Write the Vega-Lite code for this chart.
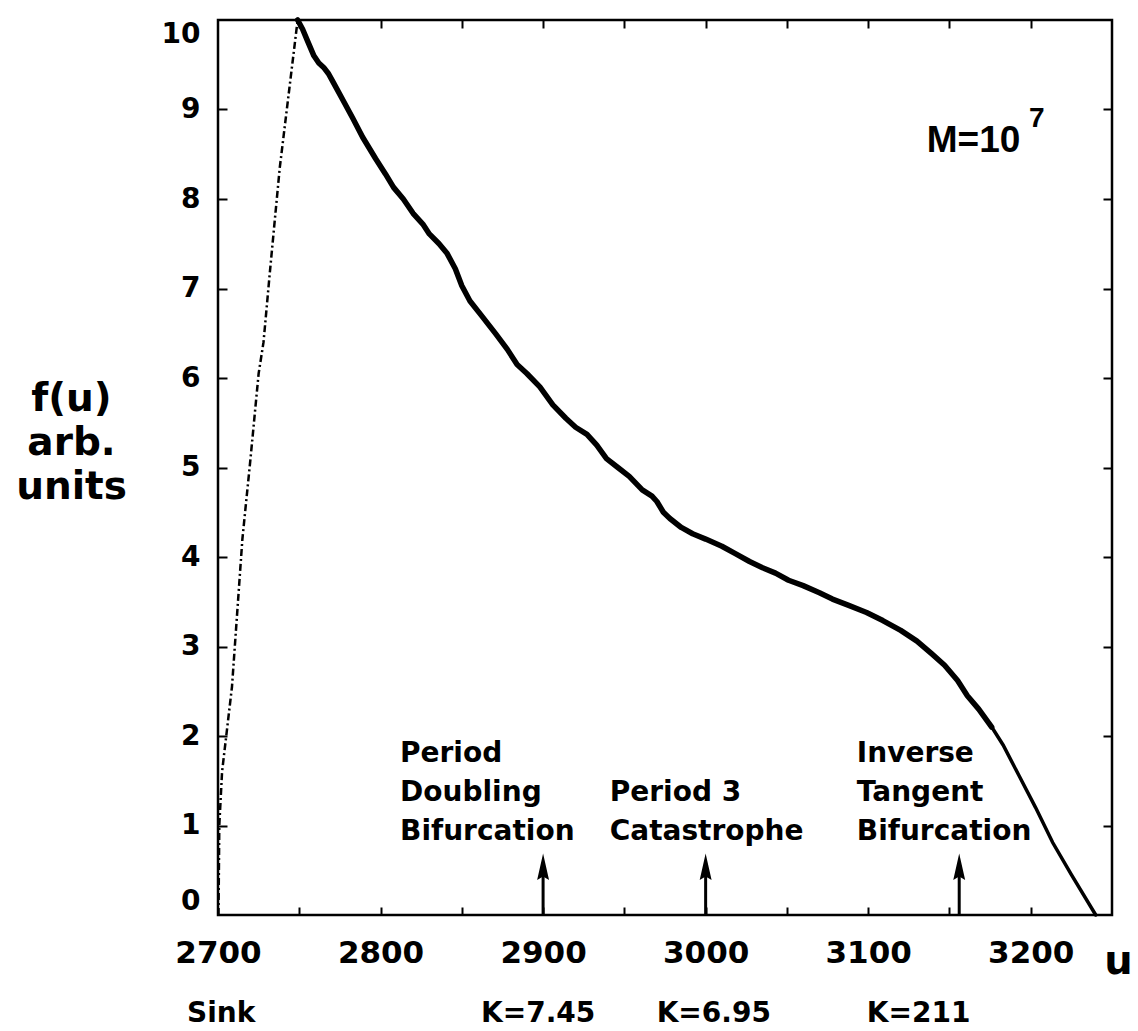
{
  "$schema": "https://vega.github.io/schema/vega-lite/v6.json",
  "width": 894,
  "height": 895,
  "autosize": "none",
  "padding": {"left": 218, "top": 20, "right": 26, "bottom": 116},
  "background": "white",
  "config": {
    "view": {"stroke": "black", "strokeWidth": 2.5},
    "axis": {
      "grid": false,
      "labelColor": "black",
      "tickColor": "black",
      "domainColor": "black",
      "titleColor": "black",
      "labelFont": "DejaVu Sans",
      "titleFont": "DejaVu Sans",
      "labelFontWeight": "bold",
      "titleFontWeight": "bold"
    },
    "text": {"font": "DejaVu Sans", "fontWeight": "bold", "color": "black"}
  },
  "datasets": {
    "sink": [
      {"u": 2700.3, "f": 0},
      {"u": 2700.8, "f": 1.0},
      {"u": 2702.5, "f": 1.6},
      {"u": 2708.6, "f": 2.55},
      {"u": 2715, "f": 4.2},
      {"u": 2720, "f": 5.1},
      {"u": 2725, "f": 6.05},
      {"u": 2728, "f": 6.4},
      {"u": 2732, "f": 7.2},
      {"u": 2738, "f": 8.35},
      {"u": 2743, "f": 9.1},
      {"u": 2749, "f": 10.0}
    ],
    "main": [
      {"u": 2749, "f": 10.0},
      {"u": 2752, "f": 9.9},
      {"u": 2755, "f": 9.77},
      {"u": 2759, "f": 9.6},
      {"u": 2762, "f": 9.52},
      {"u": 2765, "f": 9.47},
      {"u": 2768, "f": 9.4},
      {"u": 2771, "f": 9.3},
      {"u": 2777, "f": 9.1},
      {"u": 2783, "f": 8.9},
      {"u": 2789, "f": 8.69},
      {"u": 2797, "f": 8.45},
      {"u": 2803, "f": 8.28},
      {"u": 2808, "f": 8.13},
      {"u": 2814, "f": 8.0},
      {"u": 2820, "f": 7.84},
      {"u": 2826, "f": 7.72},
      {"u": 2830, "f": 7.61},
      {"u": 2836, "f": 7.5},
      {"u": 2841, "f": 7.39},
      {"u": 2846, "f": 7.22},
      {"u": 2850, "f": 7.03},
      {"u": 2855, "f": 6.86},
      {"u": 2862, "f": 6.7},
      {"u": 2871, "f": 6.49},
      {"u": 2878, "f": 6.32},
      {"u": 2884, "f": 6.15},
      {"u": 2890, "f": 6.05},
      {"u": 2898, "f": 5.9},
      {"u": 2906, "f": 5.7},
      {"u": 2914, "f": 5.55},
      {"u": 2920, "f": 5.45},
      {"u": 2927, "f": 5.37},
      {"u": 2933, "f": 5.25},
      {"u": 2939, "f": 5.1},
      {"u": 2946, "f": 5.0},
      {"u": 2953, "f": 4.9},
      {"u": 2961, "f": 4.75},
      {"u": 2967, "f": 4.68},
      {"u": 2970, "f": 4.62},
      {"u": 2974, "f": 4.5},
      {"u": 2978, "f": 4.43},
      {"u": 2985, "f": 4.33},
      {"u": 2992, "f": 4.26},
      {"u": 3000, "f": 4.2},
      {"u": 3010, "f": 4.12},
      {"u": 3018, "f": 4.04},
      {"u": 3027, "f": 3.95},
      {"u": 3035, "f": 3.88},
      {"u": 3043, "f": 3.82},
      {"u": 3051, "f": 3.74},
      {"u": 3060, "f": 3.68},
      {"u": 3070, "f": 3.6},
      {"u": 3078, "f": 3.53},
      {"u": 3088, "f": 3.46},
      {"u": 3099, "f": 3.38},
      {"u": 3109, "f": 3.29},
      {"u": 3120, "f": 3.18},
      {"u": 3130, "f": 3.06},
      {"u": 3139, "f": 2.92},
      {"u": 3147, "f": 2.79},
      {"u": 3155, "f": 2.62},
      {"u": 3161, "f": 2.45},
      {"u": 3168, "f": 2.3},
      {"u": 3176, "f": 2.1}
    ],
    "tail": [
      {"u": 3176, "f": 2.1},
      {"u": 3183, "f": 1.9},
      {"u": 3193, "f": 1.55},
      {"u": 3203, "f": 1.2},
      {"u": 3213.5, "f": 0.81},
      {"u": 3225, "f": 0.45},
      {"u": 3240, "f": 0}
    ],
    "arrows": [
      {"u": 2900},
      {"u": 3000},
      {"u": 3156}
    ],
    "notes": [
      {"u": 2812, "f": 1.71, "label": "Period\nDoubling\nBifurcation"},
      {"u": 2941, "f": 1.27, "label": "Period 3\nCatastrophe"},
      {"u": 3093, "f": 1.71, "label": "Inverse\nTangent\nBifurcation"}
    ],
    "klabels": [
      {"u": 2702, "label": "Sink"},
      {"u": 2897, "label": "K=7.45"},
      {"u": 3005, "label": "K=6.95"},
      {"u": 3131, "label": "K=211"}
    ],
    "mlabel": [
      {"u": 3136, "f": 8.525, "label": "M=10"}
    ],
    "mexp": [
      {"u": 3199, "f": 8.8, "label": "7"}
    ]
  },
  "layer": [
    {
      "data": {"name": "sink"},
      "mark": {"type": "line", "color": "black", "strokeWidth": 2.5, "strokeDash": [7, 3, 2, 3]},
      "encoding": {
        "x": {
          "field": "u", "type": "quantitative",
          "scale": {"domain": [2700, 3250], "nice": false, "zero": false},
          "axis": {
            "orient": "bottom",
            "values": [2700, 2800, 2900, 3000, 3100, 3200],
            "format": "d", "labelFlush": false, "labelOverlap": false,
            "ticks": false, "domain": false,
            "labelFontSize": 31, "labelPadding": 23,
            "title": "u", "titleFontSize": 40,
            "titleX": 900, "titleY": 58,
            "titleAlign": "center", "titleBaseline": "alphabetic"
          }
        },
        "y": {
          "field": "f", "type": "quantitative",
          "scale": {"domain": [0, 10], "nice": false, "zero": false},
          "axis": {
            "orient": "left",
            "values": [0, 1, 2, 3, 4, 5, 6, 7, 8, 9, 10],
            "format": "d", "labelOverlap": false,
            "ticks": false, "domain": false,
            "labelFontSize": 28, "labelPadding": 18, "labelFlush": true,
            "title": ["f(u)", "arb.", "units"],
            "titleFontSize": 39, "titleLineHeight": 44,
            "titleAngle": 0, "titleX": -147, "titleY": 390,
            "titleAlign": "center", "titleBaseline": "alphabetic"
          }
        }
      }
    },
    {
      "data": {"name": "main"},
      "mark": {"type": "line", "color": "black", "strokeWidth": 5.5, "strokeJoin": "round", "strokeCap": "round"},
      "encoding": {
        "x": {
          "field": "u", "type": "quantitative",
          "scale": {"domain": [2700, 3250], "nice": false, "zero": false},
          "axis": {
            "orient": "bottom",
            "values": [2750, 2800, 2850, 2900, 2950, 3000, 3050, 3100, 3150, 3200],
            "labels": false, "domain": false, "title": null,
            "tickSize": -8, "tickWidth": 2
          }
        },
        "y": {
          "field": "f", "type": "quantitative",
          "scale": {"domain": [0, 10], "nice": false, "zero": false},
          "axis": {
            "orient": "left",
            "values": [1, 2, 3, 4, 5, 6, 7, 8, 9],
            "labels": false, "domain": false, "title": null,
            "tickSize": -9, "tickWidth": 2
          }
        }
      }
    },
    {
      "data": {"name": "tail"},
      "mark": {"type": "line", "color": "black", "strokeWidth": 3.5, "strokeCap": "round"},
      "encoding": {
        "x": {
          "field": "u", "type": "quantitative",
          "scale": {"domain": [2700, 3250], "nice": false, "zero": false},
          "axis": {
            "orient": "top",
            "values": [2750, 2800, 2850, 2900, 2950, 3000, 3050, 3100, 3150, 3200],
            "labels": false, "domain": false, "title": null,
            "tickSize": -8, "tickWidth": 2
          }
        },
        "y": {
          "field": "f", "type": "quantitative",
          "scale": {"domain": [0, 10], "nice": false, "zero": false},
          "axis": {
            "orient": "right",
            "values": [1, 2, 3, 4, 5, 6, 7, 8, 9],
            "labels": false, "domain": false, "title": null,
            "tickSize": -9, "tickWidth": 2
          }
        }
      }
    },
    {
      "data": {"name": "arrows"},
      "mark": {"type": "rule", "color": "black", "strokeWidth": 3},
      "encoding": {
        "x": {"field": "u", "type": "quantitative", "scale": {"domain": [2700, 3250], "nice": false, "zero": false}, "axis": null},
        "y": {"datum": 0, "type": "quantitative", "scale": {"domain": [0, 10], "nice": false, "zero": false}, "axis": null},
        "y2": {"datum": 0.45}
      }
    },
    {
      "data": {"name": "arrows"},
      "mark": {"type": "point", "shape": "M0,-1L0.45,1L0,0.75L-0.45,1Z", "size": 700, "filled": true, "color": "black", "opacity": 1},
      "encoding": {
        "x": {"field": "u", "type": "quantitative", "scale": {"domain": [2700, 3250], "nice": false, "zero": false}, "axis": null},
        "y": {"datum": 0.54, "type": "quantitative", "scale": {"domain": [0, 10], "nice": false, "zero": false}, "axis": null}
      }
    },
    {
      "data": {"name": "notes"},
      "mark": {"type": "text", "align": "left", "baseline": "alphabetic", "fontSize": 28, "lineHeight": 39, "lineBreak": "\n"},
      "encoding": {
        "x": {"field": "u", "type": "quantitative", "scale": {"domain": [2700, 3250], "nice": false, "zero": false}, "axis": null},
        "y": {"field": "f", "type": "quantitative", "scale": {"domain": [0, 10], "nice": false, "zero": false}, "axis": null},
        "text": {"field": "label"}
      }
    },
    {
      "data": {"name": "klabels"},
      "mark": {"type": "text", "align": "center", "baseline": "alphabetic", "fontSize": 28},
      "encoding": {
        "x": {"field": "u", "type": "quantitative", "scale": {"domain": [2700, 3250], "nice": false, "zero": false}, "axis": null},
        "y": {"datum": -1.2, "type": "quantitative", "scale": {"domain": [0, 10], "nice": false, "zero": false}, "axis": null},
        "text": {"field": "label"}
      }
    },
    {
      "data": {"name": "mlabel"},
      "mark": {"type": "text", "align": "left", "baseline": "alphabetic", "fontSize": 37, "font": "Liberation Sans"},
      "encoding": {
        "x": {"field": "u", "type": "quantitative", "scale": {"domain": [2700, 3250], "nice": false, "zero": false}, "axis": null},
        "y": {"field": "f", "type": "quantitative", "scale": {"domain": [0, 10], "nice": false, "zero": false}, "axis": null},
        "text": {"field": "label"}
      }
    },
    {
      "data": {"name": "mexp"},
      "mark": {"type": "text", "align": "left", "baseline": "alphabetic", "fontSize": 28, "font": "Liberation Sans"},
      "encoding": {
        "x": {"field": "u", "type": "quantitative", "scale": {"domain": [2700, 3250], "nice": false, "zero": false}, "axis": null},
        "y": {"field": "f", "type": "quantitative", "scale": {"domain": [0, 10], "nice": false, "zero": false}, "axis": null},
        "text": {"field": "label"}
      }
    }
  ],
  "resolve": {"axis": {"x": "independent", "y": "independent"}}
}
